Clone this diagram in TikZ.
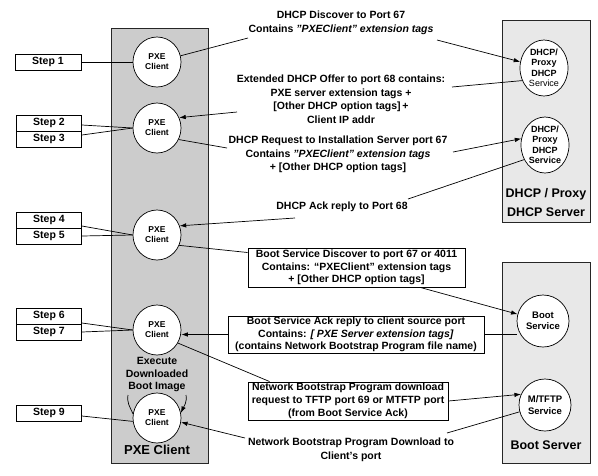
\documentclass[tikz,border=0pt]{standalone}
\usepackage{fontspec}
\setmainfont{Liberation Sans}
\usetikzlibrary{arrows.meta,shapes.geometric,calc}
\definecolor{clientgray}{HTML}{CCCCCC}
\definecolor{servergray}{HTML}{E8E8E8}
\begin{document}
\begin{tikzpicture}[x=1pt,y=-1pt,
  ln/.style={line width=0.7pt},
  arr/.style={ln,-{Latex[length=6.5pt,width=4.5pt]}},
  column/.style={draw=black!85,line width=0.9pt,inner sep=0pt,anchor=north west},
  pxe/.style={draw,fill=white,line width=0.7pt,ellipse,minimum width=48pt,minimum height=50pt,inner sep=0pt,align=center,font=\fontsize{8.5}{10}\selectfont\bfseries},
  srv/.style={draw,fill=white,line width=0.7pt,ellipse,minimum width=48pt,minimum height=56pt,inner sep=0pt,align=center,font=\fontsize{9}{10.5}\selectfont\bfseries},
  bsrv/.style={draw,fill=white,line width=0.7pt,ellipse,minimum width=52pt,minimum height=52pt,inner sep=0pt,align=center,font=\fontsize{9.5}{11.5}\selectfont\bfseries},
  stepbox/.style={draw,fill=white,line width=0.8pt,minimum width=65pt,minimum height=16pt,inner sep=0pt,font=\fontsize{10.5}{12}\selectfont\bfseries},
  msg/.style={align=center,inner sep=0pt,font=\fontsize{10.5}{13.5}\selectfont\bfseries},
  msgbox/.style={msg,draw,line width=1pt,fill=white,font=\fontsize{10.5}{12.8}\selectfont\bfseries},
  biglabel/.style={align=center,inner sep=0pt,font=\fontsize{12.5}{19}\selectfont\bfseries},
]
\useasboundingbox[fill=white] (0,0) rectangle (598,475);

% containers
\node[column,fill=clientgray,minimum width=97pt,minimum height=435pt] (colc) at (111,28) {};
\node[column,fill=servergray,minimum width=88pt,minimum height=202pt] (cold) at (502,20) {};
\node[column,fill=servergray,minimum width=88pt,minimum height=201pt] (colb) at (502,262) {};
\node[biglabel,font=\fontsize{13}{15}\selectfont\bfseries] (lc) at (157,450) {PXE Client};
\node[biglabel] (ld) at (546,202.5) {DHCP / Proxy\\DHCP Server};
\node[biglabel] (lb) at (546,445) {Boot Server};

% PXE client circles
\node[pxe] (p1) at (157,62) {PXE\\Client};
\node[pxe] (p2) at (157,128) {PXE\\Client};
\node[pxe] (p3) at (157,235) {PXE\\Client};
\node[pxe] (p4) at (157,330) {PXE\\Client};
\node[pxe] (p5) at (157,418) {PXE\\Client};
\node[msg,font=\fontsize{10.5}{12.5}\selectfont\bfseries] (exe) at (157,374.5) {Execute\\Downloaded\\Boot Image};

% server circles
\node[srv] (d1) at (544,68) {DHCP/\\Proxy\\DHCP\\{\mdseries Service}};
\node[srv] (d2) at (545,145) {DHCP/\\Proxy\\DHCP\\Service};
\node[bsrv] (bs) at (543,321) {Boot\\Service};
\node[bsrv] (mt) at (545,405) {M/TFTP\\Service};

% step boxes
\node[stepbox,minimum width=66pt] (s1) at (48,62) {Step 1};
\node[stepbox] (s2) at (49,123) {Step 2};
\node[stepbox] (s3) at (49,139) {Step 3};
\node[stepbox] (s4) at (49,220) {Step 4};
\node[stepbox] (s5) at (49,236) {Step 5};
\node[stepbox] (s6) at (49,316) {Step 6};
\node[stepbox] (s7) at (49,332) {Step 7};
\node[stepbox] (s9) at (49,413) {Step 9};

% messages
\node[msg] (t1) at (341,23) {DHCP Discover to Port 67\\Contains \textit{"PXEClient" extension tags}};
\node[msg] (t2) at (341,99) {Extended DHCP Offer to port 68 contains:\\PXE server extension tags +\\{[}Other DHCP option tags{]}\,+\\Client IP addr};
\node[msg] (t3) at (338,154.5) {DHCP Request to Installation Server port 67\\Contains \textit{"PXEClient" extension tags}\\+ {[}Other DHCP option tags{]}};
\node[msg] (t4) at (342,207) {DHCP Ack reply to Port 68};
\node[msgbox,minimum width=217pt,minimum height=39pt] (bd) at (356.5,267.5) {Boot Service Discover to port 67 or 4011\\Contains: “PXEClient” extension tags\\+ {[}Other DHCP option tags{]}};
\node[msgbox,minimum width=256pt,minimum height=37pt] (bd2) at (356,334.5) {Boot Service Ack reply to client source port\\Contains: \textit{{[} PXE Server extension tags{]}}\\(contains Network Bootstrap Program file name)};
\node[msgbox,minimum width=200pt,minimum height=38pt] (nbp) at (348,401) {Network Bootstrap Program download\\request to TFTP port 69 or MTFTP port\\(from Boot Service Ack)};
\node[msg] (t5) at (351,450) {Network Bootstrap Program Download to\\Client's port};

% free ends of the message connectors
\coordinate (ca1) at (248,38);  \coordinate (cb1) at (437,40);
\coordinate (ca2) at (452,87);  \coordinate (cb2) at (237,112);
\coordinate (ca3) at (227,148); \coordinate (cb3) at (453,152);
\coordinate (ca4) at (408,199); \coordinate (cb4) at (295,218);
\coordinate (ca8) at (447,433); \coordinate (cb8) at (245,438);
\coordinate (ce1) at (128,395); \coordinate (ce2) at (186,395);

% step connectors
\draw[ln] (s1.east) -- (p1.west);
\draw[ln] ([yshift=-2pt]s2.east) -- (p2.west);
\draw[ln] ([yshift=4pt]s3.east) -- (p2.west);
\draw[ln] ([yshift=-6pt]s4.east) -- (p3.west);
\draw[ln] (s5.east) -- (p3.west);
\draw[ln] ([yshift=-7pt]s6.east) -- (p4.west);
\draw[ln] (s7.east) -- (p4.west);
\draw[ln] ([yshift=-3pt]s9.east) -- (p5.188);

% message connectors
\draw[ln] (p1) -- (ca1);
\draw[arr] (cb1) -- (d1);
\draw[ln] (d1.210) -- (ca2);
\draw[arr] (cb2) -- (p2.25);
\draw[ln] (p2.-28) -- (ca3);
\draw[arr] (cb3) -- (d2.165);
\draw[ln] (d2.215) -- (ca4);
\draw[arr] (cb4) -- (p3.22);
\draw[ln] (p3.-25) -- ([yshift=-5pt]bd.north west);
\draw[arr] ([xshift=-45pt]bd.south east) -- (bs.165);
\draw[ln] (bd2.east) -- (bd2.east -| bs.west);
\draw[arr] (bd2.west) -- (bd2.west -| p4.east);
\draw[ln] (p4.-32) -- ([xshift=22pt]nbp.north west);
\draw[arr] (nbp.east) -- (mt.156);
\draw[ln] (mt.195) -- (ca8);
\draw[arr] (cb8) -- (p5.-10);
\draw[ln] (ce1) to[out=-100,in=115] (p5.170);
\draw[arr] (ce2) to[out=-80,in=65] (p5.12);
\end{tikzpicture}
\end{document}
